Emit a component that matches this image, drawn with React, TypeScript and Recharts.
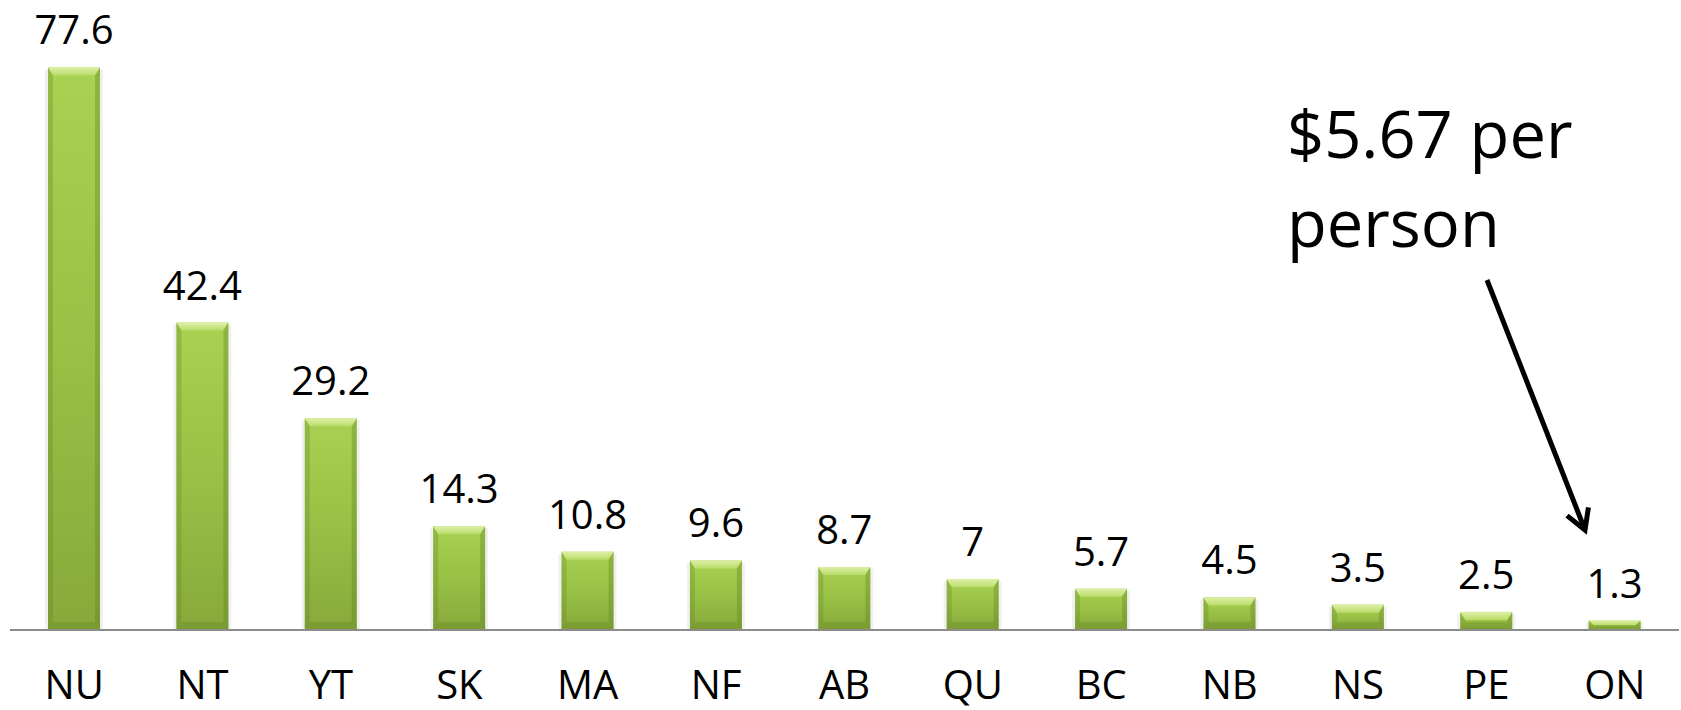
import React from 'react';
import { BarChart, Bar, XAxis, YAxis, LabelList, Customized } from 'recharts';

const categories = ['NU', 'NT', 'YT', 'SK', 'MA', 'NF', 'AB', 'QU', 'BC', 'NB', 'NS', 'PE', 'ON'];
const values = [77.6, 42.4, 29.2, 14.3, 10.8, 9.6, 8.7, 7, 5.7, 4.5, 3.5, 2.5, 1.3];
const annotationLines = ['$5.67 per', 'person'];

const data = categories.map((c, i) => ({ name: c, value: values[i] }));

const FONT = '"Open Sans", "Noto Sans", sans-serif';

const BevelBar = (props: any) => {
  const { x, y, width, height } = props;
  if (!height || height <= 0) return null;
  const b = Math.min(8, height / 2);
  const s = Math.min(5, width / 2);
  const w = width;
  const h = height;
  return (
    <g>
      <rect x={x - 3} y={y + 2} width={w + 6} height={h - 2} fill="#000" opacity={0.06} />
      <rect x={x} y={y} width={w} height={h} fill="url(#barBody)" />
      <polygon
        points={`${x},${y} ${x + w},${y} ${x + w - s},${y + b} ${x + s},${y + b}`}
        fill="url(#barTop)"
      />
      <polygon
        points={`${x},${y} ${x + s},${y + b} ${x + s},${y + h - b} ${x},${y + h}`}
        fill="#5f7d22"
        opacity={0.28}
      />
      <polygon
        points={`${x + w},${y} ${x + w - s},${y + b} ${x + w - s},${y + h - b} ${x + w},${y + h}`}
        fill="#5f7d22"
        opacity={0.35}
      />
      <polygon
        points={`${x},${y + h} ${x + s},${y + h - b} ${x + w - s},${y + h - b} ${x + w},${y + h}`}
        fill="#5f7d22"
        opacity={0.3}
      />
    </g>
  );
};

const ValueLabel = (props: any) => {
  const { x, y, width, value } = props;
  return (
    <text
      x={x + width / 2}
      y={y - 23}
      textAnchor="middle"
      fontFamily={FONT}
      fontSize={40}
      fill="#000"
    >
      {value}
    </text>
  );
};

const CatTick = (props: any) => {
  const { x, y, payload } = props;
  return (
    <text x={x} y={y + 69} textAnchor="middle" fontFamily={FONT} fontSize={40} fill="#000">
      {payload.value}
    </text>
  );
};

const Annotation = () => {
  const x1 = 1487, y1 = 280, x2 = 1585, y2 = 530;
  const dx = x2 - x1, dy = y2 - y1;
  const len = Math.sqrt(dx * dx + dy * dy);
  const ux = -dx / len, uy = -dy / len;
  const L = 23;
  const ang = Math.PI / 6;
  const w1x = x2 + L * (ux * Math.cos(ang) - uy * Math.sin(ang));
  const w1y = y2 + L * (ux * Math.sin(ang) + uy * Math.cos(ang));
  const w2x = x2 + L * (ux * Math.cos(ang) + uy * Math.sin(ang));
  const w2y = y2 + L * (-ux * Math.sin(ang) + uy * Math.cos(ang));
  return (
    <g>
      <text x={1287} y={158} fontFamily={FONT} fontSize={65} fill="#000">
        {annotationLines[0]}
      </text>
      <text x={1287} y={247} fontFamily={FONT} fontSize={65} fill="#000">
        {annotationLines[1]}
      </text>
      <line x1={x1} y1={y1} x2={x2} y2={y2} stroke="#000" strokeWidth={5} />
      <polyline
        points={`${w1x},${w1y} ${x2},${y2} ${w2x},${w2y}`}
        fill="none"
        stroke="#000"
        strokeWidth={5}
        strokeLinejoin="miter"
      />
    </g>
  );
};

export default function App() {
  return (
    <div style={{ position: 'absolute', left: 0, top: 0, width: 1681, height: 710, background: '#fff' }}>
      <BarChart
        width={1681}
        height={710}
        data={data}
        margin={{ top: 50, right: 2, left: 10, bottom: 0 }}
        barSize={52}
      >
        <defs>
          <linearGradient id="barBody" x1="0" y1="0" x2="0" y2="1">
            <stop offset="0%" stopColor="#a9d152" />
            <stop offset="50%" stopColor="#98c145" />
            <stop offset="100%" stopColor="#87a93b" />
          </linearGradient>
          <linearGradient id="barTop" x1="0" y1="0" x2="0" y2="1">
            <stop offset="0%" stopColor="#dff0a8" />
            <stop offset="100%" stopColor="#b8dc68" />
          </linearGradient>
        </defs>
        <XAxis
          dataKey="name"
          height={80}
          tickLine={false}
          tickSize={0}
          tickMargin={0}
          axisLine={{ stroke: '#8c8c8c', strokeWidth: 2 }}
          tick={<CatTick />}
          interval={0}
        />
        <YAxis hide domain={[0, 80]} />
        <Bar dataKey="value" isAnimationActive={false} shape={<BevelBar />}>
          <LabelList dataKey="value" content={<ValueLabel />} />
        </Bar>
        <Customized component={<Annotation />} />
      </BarChart>
    </div>
  );
}
